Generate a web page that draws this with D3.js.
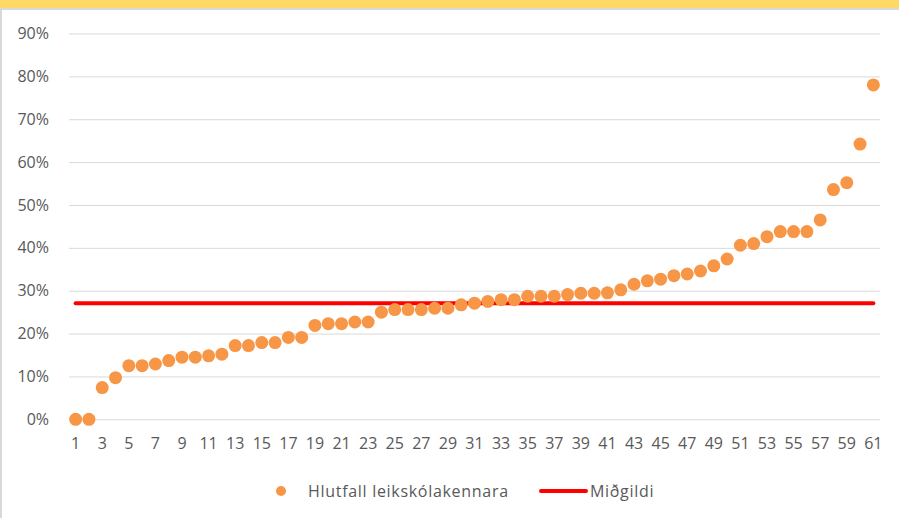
<!DOCTYPE html>
<html>
<head>
<meta charset="utf-8">
<script src="https://cdn.jsdelivr.net/npm/d3@7"></script>
<style>
  body { margin: 0; background: #fff; }
  text { font-family: "Open Sans", "Liberation Sans", sans-serif; fill: #595959; }
</style>
</head>
<body>
<div class="drawingArea"></div>
<script>
// Hlutfall leikskólakennara, sorted, one value per leikskóli
var categories = d3.range(1, 62);
var hlutfall = [
    0.000, 0.000, 0.074, 0.097, 0.125, 0.125, 0.129, 0.137, 0.145, 0.145,
    0.148, 0.152, 0.172, 0.172, 0.179, 0.179, 0.191, 0.191, 0.219, 0.223,
    0.223, 0.227, 0.227, 0.250, 0.256, 0.256, 0.256, 0.259, 0.259, 0.267,
    0.271, 0.275, 0.279, 0.279, 0.287, 0.287, 0.287, 0.291, 0.294, 0.294,
    0.295, 0.302, 0.315, 0.323, 0.327, 0.335, 0.339, 0.346, 0.358, 0.374,
    0.406, 0.410, 0.426, 0.438, 0.438, 0.438, 0.465, 0.536, 0.552, 0.642,
    0.780
];
var midgildi = 0.271;
var yTicks = [0, 0.1, 0.2, 0.3, 0.4, 0.5, 0.6, 0.7, 0.8, 0.9];
var legendLabels = ["Hlutfall leikskólakennara", "Miðgildi"];

var width = 899;
var height = 518;

var dotColor = "#F79646";
var lineColor = "#FF0000";
var gridColor = "#D9D9D9";

var svg = d3.select(".drawingArea").append("svg")
    .attr("width", width)
    .attr("height", height);

// frame: yellow band on top, grey edges
svg.append("rect")
    .attr("x", 0).attr("y", 0)
    .attr("width", width).attr("height", 8)
    .attr("fill", "#FFD966");
svg.append("line")
    .attr("x1", 0).attr("x2", width)
    .attr("y1", 9).attr("y2", 9)
    .attr("stroke", "#D9D9D9").attr("stroke-width", 2);
svg.append("line")
    .attr("x1", 1).attr("x2", 1)
    .attr("y1", 8).attr("y2", height)
    .attr("stroke", "#D9D9D9").attr("stroke-width", 2);

var x = d3.scaleBand()
    .domain(categories)
    .range([69, 880]);

var y = d3.scaleLinear()
    .domain([0, 0.9])
    .range([419.3, 33.5]);

// gridlines + y labels
var yAxis = d3.axisLeft(y)
    .tickValues(yTicks)
    .tickSize(-(880 - 69))
    .tickPadding(20)
    .tickFormat(d3.format(".0%"));

var gy = svg.append("g")
    .attr("transform", "translate(69,0)")
    .call(yAxis);
gy.select(".domain").remove();
gy.selectAll(".tick line")
    .attr("stroke", gridColor)
    .attr("stroke-width", 1);
gy.selectAll(".tick text")
    .style("font-size", "16px")
    .style("font-family", null);

// x labels, every other category
var xAxis = d3.axisBottom(x)
    .tickValues(categories.filter(function(d) { return d % 2 === 1; }))
    .tickSize(0)
    .tickPadding(18);

var gx = svg.append("g")
    .attr("transform", "translate(0,419.3)")
    .call(xAxis);
gx.select(".domain").remove();
gx.selectAll(".tick text")
    .style("font-size", "16px")
    .style("font-family", null);

// median line
svg.append("line")
    .attr("x1", x(categories[0]) + x.bandwidth() / 2)
    .attr("x2", x(categories[categories.length - 1]) + x.bandwidth() / 2)
    .attr("y1", y(midgildi))
    .attr("y2", y(midgildi))
    .attr("stroke", lineColor)
    .attr("stroke-width", 4)
    .attr("stroke-linecap", "round");

// dots
svg.append("g").selectAll("circle")
    .data(hlutfall)
    .enter().append("circle")
    .attr("cx", function(d, i) { return x(categories[i]) + x.bandwidth() / 2; })
    .attr("cy", function(d) { return y(d); })
    .attr("r", 6.5)
    .attr("fill", dotColor);

// legend
var legend = svg.append("g").attr("transform", "translate(0,491)");
legend.append("circle")
    .attr("cx", 281).attr("cy", 0)
    .attr("r", 5)
    .attr("fill", dotColor);
legend.append("text")
    .attr("x", 308).attr("y", 0)
    .attr("dy", "0.35em")
    .style("font-size", "16px")
    .style("letter-spacing", "0.7px")
    .text(legendLabels[0]);
legend.append("line")
    .attr("x1", 541).attr("x2", 586)
    .attr("y1", 0).attr("y2", 0)
    .attr("stroke", lineColor)
    .attr("stroke-width", 4)
    .attr("stroke-linecap", "round");
legend.append("text")
    .attr("x", 590).attr("y", 0)
    .attr("dy", "0.35em")
    .style("font-size", "16px")
    .style("letter-spacing", "0.7px")
    .text(legendLabels[1]);
</script>
</body>
</html>
